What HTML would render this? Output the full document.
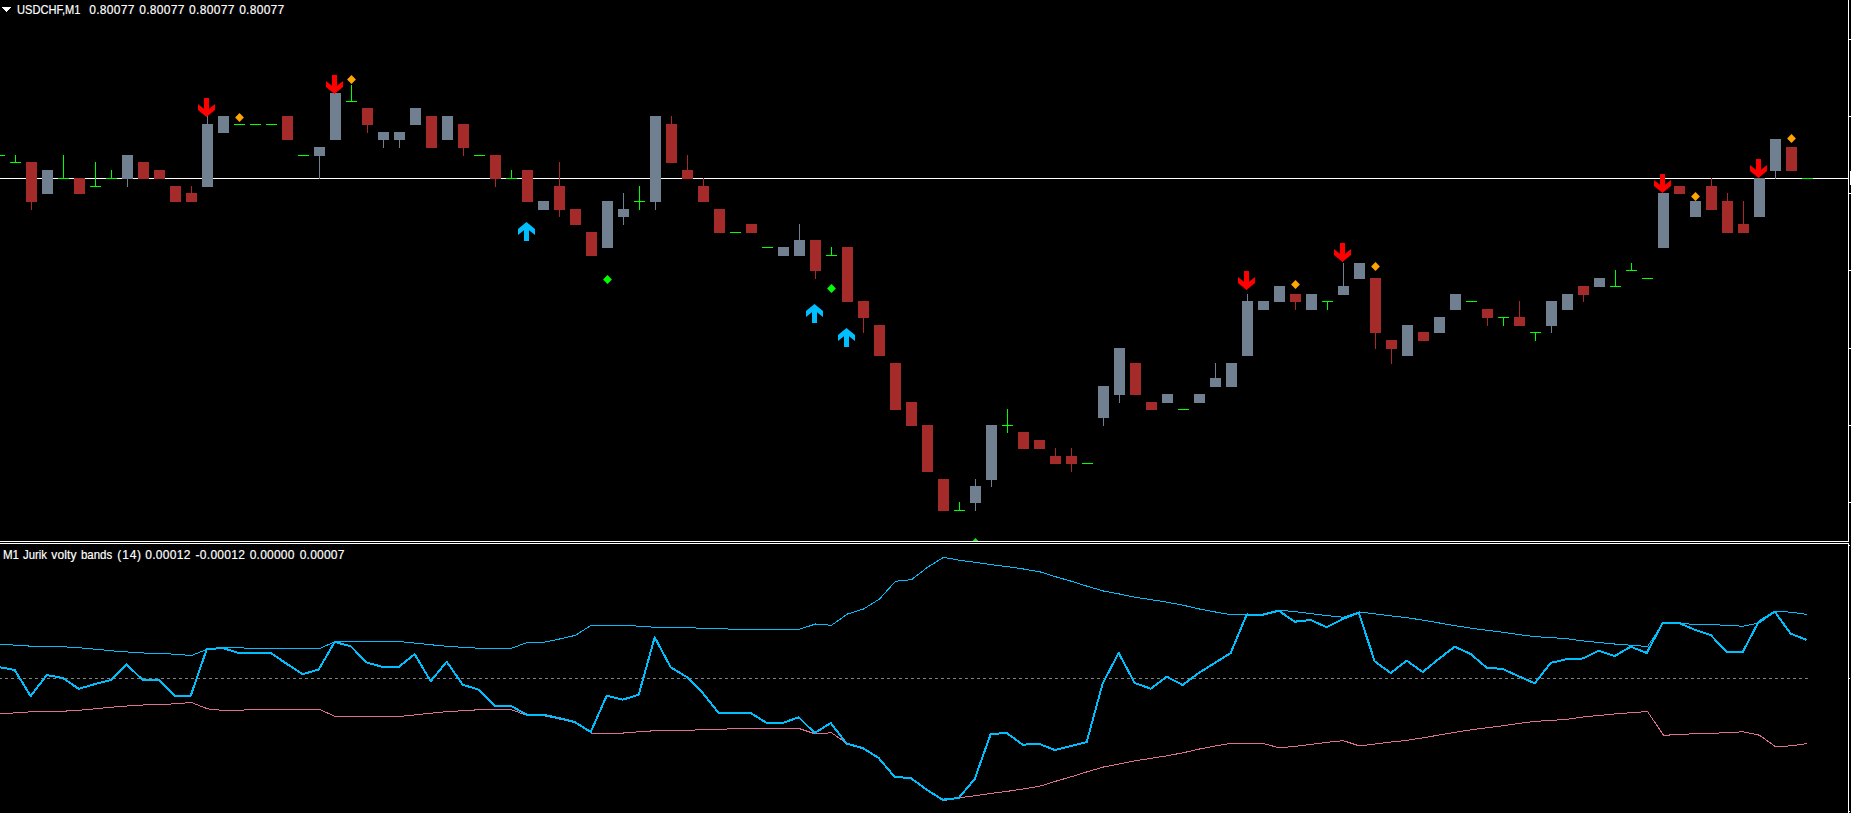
<!DOCTYPE html>
<html><head><meta charset="utf-8"><title>USDCHF,M1</title>
<style>
html,body{margin:0;padding:0;background:#000;}
body{width:1851px;height:813px;overflow:hidden;position:relative;font-family:"Liberation Sans",sans-serif;}
svg{position:absolute;left:0;top:0;display:block}
.t{position:absolute;display:inline-block;transform-origin:0 0;color:#fff;font-size:12px;line-height:14px;white-space:pre;-webkit-text-stroke:0.18px #fff;}
</style></head><body>
<svg width="1851" height="813" viewBox="0 0 1851 813">
<rect width="1851" height="813" fill="#000"/>
<g shape-rendering="crispEdges">
<rect x="0" y="178" width="1848" height="1" fill="#fff"/>
<rect x="-6" y="155" width="11" height="1" fill="#00FF00"/>
<rect x="15" y="155" width="1" height="8" fill="#00FF00"/>
<rect x="10" y="162" width="11" height="1" fill="#00FF00"/>
<rect x="31" y="162" width="1" height="48" fill="#A52A2A"/>
<rect x="26" y="162" width="11" height="40" fill="#A52A2A"/>
<rect x="47" y="170" width="1" height="24" fill="#708090"/>
<rect x="42" y="170" width="11" height="24" fill="#708090"/>
<rect x="63" y="155" width="1" height="24" fill="#00FF00"/>
<rect x="58" y="178" width="11" height="1" fill="#00FF00"/>
<rect x="79" y="178" width="1" height="16" fill="#A52A2A"/>
<rect x="74" y="178" width="11" height="16" fill="#A52A2A"/>
<rect x="95" y="162" width="1" height="25" fill="#00FF00"/>
<rect x="90" y="186" width="11" height="1" fill="#00FF00"/>
<rect x="111" y="170" width="1" height="9" fill="#00FF00"/>
<rect x="106" y="178" width="11" height="1" fill="#00FF00"/>
<rect x="127" y="155" width="1" height="32" fill="#708090"/>
<rect x="122" y="155" width="11" height="24" fill="#708090"/>
<rect x="143" y="162" width="1" height="17" fill="#A52A2A"/>
<rect x="138" y="162" width="11" height="17" fill="#A52A2A"/>
<rect x="159" y="170" width="1" height="9" fill="#A52A2A"/>
<rect x="154" y="170" width="11" height="9" fill="#A52A2A"/>
<rect x="175" y="186" width="1" height="16" fill="#A52A2A"/>
<rect x="170" y="186" width="11" height="16" fill="#A52A2A"/>
<rect x="191" y="186" width="1" height="16" fill="#A52A2A"/>
<rect x="186" y="193" width="11" height="9" fill="#A52A2A"/>
<rect x="207" y="116" width="1" height="71" fill="#708090"/>
<rect x="202" y="124" width="11" height="63" fill="#708090"/>
<rect x="223" y="116" width="1" height="17" fill="#708090"/>
<rect x="218" y="116" width="11" height="17" fill="#708090"/>
<rect x="234" y="124" width="11" height="1" fill="#00FF00"/>
<rect x="250" y="124" width="11" height="1" fill="#00FF00"/>
<rect x="266" y="124" width="11" height="1" fill="#00FF00"/>
<rect x="287" y="116" width="1" height="24" fill="#A52A2A"/>
<rect x="282" y="116" width="11" height="24" fill="#A52A2A"/>
<rect x="298" y="155" width="11" height="1" fill="#00FF00"/>
<rect x="319" y="147" width="1" height="32" fill="#708090"/>
<rect x="314" y="147" width="11" height="9" fill="#708090"/>
<rect x="335" y="93" width="1" height="47" fill="#708090"/>
<rect x="330" y="93" width="11" height="47" fill="#708090"/>
<rect x="351" y="85" width="1" height="17" fill="#00FF00"/>
<rect x="346" y="101" width="11" height="1" fill="#00FF00"/>
<rect x="367" y="108" width="1" height="25" fill="#A52A2A"/>
<rect x="362" y="108" width="11" height="17" fill="#A52A2A"/>
<rect x="383" y="132" width="1" height="16" fill="#708090"/>
<rect x="378" y="132" width="11" height="8" fill="#708090"/>
<rect x="399" y="132" width="1" height="16" fill="#708090"/>
<rect x="394" y="132" width="11" height="8" fill="#708090"/>
<rect x="415" y="108" width="1" height="17" fill="#708090"/>
<rect x="410" y="108" width="11" height="17" fill="#708090"/>
<rect x="431" y="116" width="1" height="32" fill="#A52A2A"/>
<rect x="426" y="116" width="11" height="32" fill="#A52A2A"/>
<rect x="447" y="116" width="1" height="24" fill="#708090"/>
<rect x="442" y="116" width="11" height="24" fill="#708090"/>
<rect x="463" y="124" width="1" height="32" fill="#A52A2A"/>
<rect x="458" y="124" width="11" height="24" fill="#A52A2A"/>
<rect x="474" y="155" width="11" height="1" fill="#00FF00"/>
<rect x="495" y="155" width="1" height="32" fill="#A52A2A"/>
<rect x="490" y="155" width="11" height="24" fill="#A52A2A"/>
<rect x="511" y="170" width="1" height="9" fill="#00FF00"/>
<rect x="506" y="178" width="11" height="1" fill="#00FF00"/>
<rect x="527" y="170" width="1" height="32" fill="#A52A2A"/>
<rect x="522" y="170" width="11" height="32" fill="#A52A2A"/>
<rect x="543" y="201" width="1" height="9" fill="#708090"/>
<rect x="538" y="201" width="11" height="9" fill="#708090"/>
<rect x="559" y="162" width="1" height="55" fill="#A52A2A"/>
<rect x="554" y="186" width="11" height="24" fill="#A52A2A"/>
<rect x="575" y="209" width="1" height="16" fill="#A52A2A"/>
<rect x="570" y="209" width="11" height="16" fill="#A52A2A"/>
<rect x="591" y="232" width="1" height="24" fill="#A52A2A"/>
<rect x="586" y="232" width="11" height="24" fill="#A52A2A"/>
<rect x="607" y="201" width="1" height="47" fill="#708090"/>
<rect x="602" y="201" width="11" height="47" fill="#708090"/>
<rect x="623" y="193" width="1" height="32" fill="#708090"/>
<rect x="618" y="209" width="11" height="8" fill="#708090"/>
<rect x="639" y="186" width="1" height="24" fill="#00FF00"/>
<rect x="634" y="201" width="11" height="1" fill="#00FF00"/>
<rect x="655" y="116" width="1" height="94" fill="#708090"/>
<rect x="650" y="116" width="11" height="86" fill="#708090"/>
<rect x="671" y="116" width="1" height="47" fill="#A52A2A"/>
<rect x="666" y="124" width="11" height="39" fill="#A52A2A"/>
<rect x="687" y="155" width="1" height="24" fill="#A52A2A"/>
<rect x="682" y="170" width="11" height="9" fill="#A52A2A"/>
<rect x="703" y="178" width="1" height="24" fill="#A52A2A"/>
<rect x="698" y="186" width="11" height="16" fill="#A52A2A"/>
<rect x="719" y="209" width="1" height="24" fill="#A52A2A"/>
<rect x="714" y="209" width="11" height="24" fill="#A52A2A"/>
<rect x="730" y="232" width="11" height="1" fill="#00FF00"/>
<rect x="751" y="224" width="1" height="9" fill="#A52A2A"/>
<rect x="746" y="224" width="11" height="9" fill="#A52A2A"/>
<rect x="762" y="247" width="11" height="1" fill="#00FF00"/>
<rect x="783" y="247" width="1" height="9" fill="#708090"/>
<rect x="778" y="247" width="11" height="9" fill="#708090"/>
<rect x="799" y="224" width="1" height="32" fill="#708090"/>
<rect x="794" y="240" width="11" height="16" fill="#708090"/>
<rect x="815" y="240" width="1" height="39" fill="#A52A2A"/>
<rect x="810" y="240" width="11" height="31" fill="#A52A2A"/>
<rect x="831" y="247" width="1" height="9" fill="#00FF00"/>
<rect x="826" y="255" width="11" height="1" fill="#00FF00"/>
<rect x="847" y="247" width="1" height="55" fill="#A52A2A"/>
<rect x="842" y="247" width="11" height="55" fill="#A52A2A"/>
<rect x="863" y="301" width="1" height="32" fill="#A52A2A"/>
<rect x="858" y="301" width="11" height="17" fill="#A52A2A"/>
<rect x="879" y="325" width="1" height="31" fill="#A52A2A"/>
<rect x="874" y="325" width="11" height="31" fill="#A52A2A"/>
<rect x="895" y="363" width="1" height="47" fill="#A52A2A"/>
<rect x="890" y="363" width="11" height="47" fill="#A52A2A"/>
<rect x="911" y="402" width="1" height="24" fill="#A52A2A"/>
<rect x="906" y="402" width="11" height="24" fill="#A52A2A"/>
<rect x="927" y="425" width="1" height="47" fill="#A52A2A"/>
<rect x="922" y="425" width="11" height="47" fill="#A52A2A"/>
<rect x="943" y="479" width="1" height="32" fill="#A52A2A"/>
<rect x="938" y="479" width="11" height="32" fill="#A52A2A"/>
<rect x="959" y="502" width="1" height="9" fill="#00FF00"/>
<rect x="954" y="510" width="11" height="1" fill="#00FF00"/>
<rect x="975" y="479" width="1" height="32" fill="#708090"/>
<rect x="970" y="486" width="11" height="17" fill="#708090"/>
<rect x="991" y="425" width="1" height="62" fill="#708090"/>
<rect x="986" y="425" width="11" height="55" fill="#708090"/>
<rect x="1007" y="409" width="1" height="24" fill="#00FF00"/>
<rect x="1002" y="425" width="11" height="1" fill="#00FF00"/>
<rect x="1023" y="432" width="1" height="17" fill="#A52A2A"/>
<rect x="1018" y="432" width="11" height="17" fill="#A52A2A"/>
<rect x="1039" y="440" width="1" height="9" fill="#A52A2A"/>
<rect x="1034" y="440" width="11" height="9" fill="#A52A2A"/>
<rect x="1055" y="448" width="1" height="16" fill="#A52A2A"/>
<rect x="1050" y="456" width="11" height="8" fill="#A52A2A"/>
<rect x="1071" y="448" width="1" height="24" fill="#A52A2A"/>
<rect x="1066" y="456" width="11" height="8" fill="#A52A2A"/>
<rect x="1082" y="463" width="11" height="1" fill="#00FF00"/>
<rect x="1103" y="386" width="1" height="40" fill="#708090"/>
<rect x="1098" y="386" width="11" height="32" fill="#708090"/>
<rect x="1119" y="348" width="1" height="55" fill="#708090"/>
<rect x="1114" y="348" width="11" height="47" fill="#708090"/>
<rect x="1135" y="363" width="1" height="32" fill="#A52A2A"/>
<rect x="1130" y="363" width="11" height="32" fill="#A52A2A"/>
<rect x="1151" y="402" width="1" height="8" fill="#A52A2A"/>
<rect x="1146" y="402" width="11" height="8" fill="#A52A2A"/>
<rect x="1167" y="394" width="1" height="9" fill="#708090"/>
<rect x="1162" y="394" width="11" height="9" fill="#708090"/>
<rect x="1178" y="409" width="11" height="1" fill="#00FF00"/>
<rect x="1199" y="394" width="1" height="9" fill="#708090"/>
<rect x="1194" y="394" width="11" height="9" fill="#708090"/>
<rect x="1215" y="363" width="1" height="24" fill="#708090"/>
<rect x="1210" y="378" width="11" height="9" fill="#708090"/>
<rect x="1231" y="363" width="1" height="24" fill="#708090"/>
<rect x="1226" y="363" width="11" height="24" fill="#708090"/>
<rect x="1247" y="294" width="1" height="62" fill="#708090"/>
<rect x="1242" y="301" width="11" height="55" fill="#708090"/>
<rect x="1263" y="301" width="1" height="9" fill="#708090"/>
<rect x="1258" y="301" width="11" height="9" fill="#708090"/>
<rect x="1279" y="286" width="1" height="16" fill="#708090"/>
<rect x="1274" y="286" width="11" height="16" fill="#708090"/>
<rect x="1295" y="294" width="1" height="16" fill="#A52A2A"/>
<rect x="1290" y="294" width="11" height="8" fill="#A52A2A"/>
<rect x="1311" y="294" width="1" height="16" fill="#708090"/>
<rect x="1306" y="294" width="11" height="16" fill="#708090"/>
<rect x="1327" y="301" width="1" height="9" fill="#00FF00"/>
<rect x="1322" y="301" width="11" height="1" fill="#00FF00"/>
<rect x="1343" y="263" width="1" height="32" fill="#708090"/>
<rect x="1338" y="286" width="11" height="9" fill="#708090"/>
<rect x="1359" y="263" width="1" height="16" fill="#708090"/>
<rect x="1354" y="263" width="11" height="16" fill="#708090"/>
<rect x="1375" y="278" width="1" height="71" fill="#A52A2A"/>
<rect x="1370" y="278" width="11" height="55" fill="#A52A2A"/>
<rect x="1391" y="340" width="1" height="24" fill="#A52A2A"/>
<rect x="1386" y="340" width="11" height="9" fill="#A52A2A"/>
<rect x="1407" y="325" width="1" height="31" fill="#708090"/>
<rect x="1402" y="325" width="11" height="31" fill="#708090"/>
<rect x="1423" y="332" width="1" height="9" fill="#A52A2A"/>
<rect x="1418" y="332" width="11" height="9" fill="#A52A2A"/>
<rect x="1439" y="317" width="1" height="16" fill="#708090"/>
<rect x="1434" y="317" width="11" height="16" fill="#708090"/>
<rect x="1455" y="294" width="1" height="16" fill="#708090"/>
<rect x="1450" y="294" width="11" height="16" fill="#708090"/>
<rect x="1466" y="301" width="11" height="1" fill="#00FF00"/>
<rect x="1487" y="309" width="1" height="17" fill="#A52A2A"/>
<rect x="1482" y="309" width="11" height="9" fill="#A52A2A"/>
<rect x="1503" y="317" width="1" height="9" fill="#00FF00"/>
<rect x="1498" y="317" width="11" height="1" fill="#00FF00"/>
<rect x="1519" y="301" width="1" height="25" fill="#A52A2A"/>
<rect x="1514" y="317" width="11" height="9" fill="#A52A2A"/>
<rect x="1535" y="332" width="1" height="9" fill="#00FF00"/>
<rect x="1530" y="332" width="11" height="1" fill="#00FF00"/>
<rect x="1551" y="301" width="1" height="32" fill="#708090"/>
<rect x="1546" y="301" width="11" height="25" fill="#708090"/>
<rect x="1567" y="294" width="1" height="16" fill="#708090"/>
<rect x="1562" y="294" width="11" height="16" fill="#708090"/>
<rect x="1583" y="286" width="1" height="16" fill="#A52A2A"/>
<rect x="1578" y="286" width="11" height="9" fill="#A52A2A"/>
<rect x="1599" y="278" width="1" height="9" fill="#708090"/>
<rect x="1594" y="278" width="11" height="9" fill="#708090"/>
<rect x="1615" y="270" width="1" height="17" fill="#00FF00"/>
<rect x="1610" y="286" width="11" height="1" fill="#00FF00"/>
<rect x="1631" y="263" width="1" height="8" fill="#00FF00"/>
<rect x="1626" y="270" width="11" height="1" fill="#00FF00"/>
<rect x="1642" y="278" width="11" height="1" fill="#00FF00"/>
<rect x="1663" y="193" width="1" height="55" fill="#708090"/>
<rect x="1658" y="193" width="11" height="55" fill="#708090"/>
<rect x="1679" y="186" width="1" height="8" fill="#A52A2A"/>
<rect x="1674" y="186" width="11" height="8" fill="#A52A2A"/>
<rect x="1695" y="201" width="1" height="16" fill="#708090"/>
<rect x="1690" y="201" width="11" height="16" fill="#708090"/>
<rect x="1711" y="178" width="1" height="32" fill="#A52A2A"/>
<rect x="1706" y="186" width="11" height="24" fill="#A52A2A"/>
<rect x="1727" y="193" width="1" height="40" fill="#A52A2A"/>
<rect x="1722" y="201" width="11" height="32" fill="#A52A2A"/>
<rect x="1743" y="201" width="1" height="32" fill="#A52A2A"/>
<rect x="1738" y="224" width="11" height="9" fill="#A52A2A"/>
<rect x="1759" y="178" width="1" height="39" fill="#708090"/>
<rect x="1754" y="178" width="11" height="39" fill="#708090"/>
<rect x="1775" y="139" width="1" height="40" fill="#708090"/>
<rect x="1770" y="139" width="11" height="32" fill="#708090"/>
<rect x="1791" y="147" width="1" height="24" fill="#A52A2A"/>
<rect x="1786" y="147" width="11" height="24" fill="#A52A2A"/>
<rect x="1802" y="178" width="11" height="1" fill="#00FF00"/>
<rect x="1848" y="0" width="1" height="541" fill="#fff"/>
<rect x="0" y="541" width="1849" height="1" fill="#fff"/>
<rect x="0" y="543" width="1849" height="1" fill="#fff"/>
<rect x="1848" y="543" width="1" height="270" fill="#fff"/>
<rect x="1849" y="39" width="2" height="1" fill="#fff"/><rect x="1849" y="116" width="2" height="1" fill="#fff"/><rect x="1849" y="193" width="2" height="1" fill="#fff"/><rect x="1849" y="270" width="2" height="1" fill="#fff"/><rect x="1849" y="348" width="2" height="1" fill="#fff"/><rect x="1849" y="425" width="2" height="1" fill="#fff"/><rect x="1849" y="502" width="2" height="1" fill="#fff"/>
<rect x="1849" y="545" width="1" height="1" fill="#fff"/>
<rect x="1849" y="678" width="1" height="1" fill="#fff"/>
<rect x="1849" y="811" width="1" height="1" fill="#fff"/>
<rect x="1850" y="171" width="1" height="14" fill="#fff"/>
<polygon points="2,7 11,7 6.5,12" fill="#fff"/>
<line x1="0" y1="678.5" x2="1808" y2="678.5" stroke="#808080" stroke-width="1" stroke-dasharray="3 3" stroke-dashoffset="1"/>
<polyline fill="none" stroke="#00BFFF" stroke-width="1" points="-0.5,644.0 15.5,645.2 31.5,646.2 47.5,646.5 63.5,646.8 79.5,647.8 95.5,649.2 111.5,650.8 127.5,652.0 143.5,653.0 159.5,653.5 175.5,654.2 191.5,655.5 207.5,649.2 223.5,647.5 239.5,647.8 255.5,648.5 271.5,648.5 287.5,648.5 303.5,648.5 319.5,648.5 335.5,641.5 351.5,641.5 367.5,641.5 383.5,641.5 399.5,641.5 415.5,643.2 431.5,644.8 447.5,646.4 463.5,647.3 479.5,648.3 495.5,648.3 511.5,648.3 527.5,642.3 543.5,642.3 559.5,639.0 575.5,635.3 591.5,625.0 607.5,625.0 623.5,625.0 639.5,626.3 655.5,627.3 671.5,627.3 687.5,627.7 703.5,628.3 719.5,628.7 735.5,629.3 751.5,629.3 767.5,629.3 783.5,629.3 799.5,629.3 815.5,624.0 831.5,625.3 847.5,614.0 863.5,609.0 879.5,599.0 895.5,581.3 911.5,579.7 927.5,567.3 943.5,557.3 959.5,560.3 975.5,562.3 991.5,564.7 1007.5,566.7 1023.5,569.0 1039.5,571.7 1055.5,576.7 1071.5,581.3 1087.5,586.3 1103.5,591.0 1119.5,594.0 1135.5,597.3 1151.5,599.7 1167.5,602.3 1183.5,605.3 1199.5,609.0 1215.5,612.0 1231.5,614.7 1247.5,614.0 1263.5,614.3 1279.5,610.2 1295.5,611.7 1311.5,613.7 1327.5,615.7 1343.5,617.3 1359.5,612.0 1375.5,614.0 1391.5,616.0 1407.5,617.7 1423.5,620.3 1439.5,623.0 1455.5,625.7 1471.5,628.3 1487.5,630.3 1503.5,632.3 1519.5,634.7 1535.5,636.7 1551.5,637.6 1567.5,638.8 1583.5,641.0 1599.5,642.6 1615.5,644.1 1631.5,645.3 1647.5,646.5 1663.5,622.8 1679.5,623.3 1695.5,624.5 1711.5,624.5 1727.5,625.5 1743.5,626.2 1759.5,622.8 1775.5,611.3 1791.5,612.2 1807.5,614.5"/>
<polyline fill="none" stroke="#DB7093" stroke-width="1" points="-0.5,714.0 15.5,712.8 31.5,711.8 47.5,711.5 63.5,711.2 79.5,710.2 95.5,708.8 111.5,707.2 127.5,706.0 143.5,705.0 159.5,704.5 175.5,703.8 191.5,702.5 207.5,708.8 223.5,710.5 239.5,710.2 255.5,709.5 271.5,709.5 287.5,709.5 303.5,709.5 319.5,709.5 335.5,716.5 351.5,716.5 367.5,716.5 383.5,716.5 399.5,716.5 415.5,714.8 431.5,713.2 447.5,711.6 463.5,710.7 479.5,709.7 495.5,709.7 511.5,709.7 527.5,715.7 543.5,715.7 559.5,719.0 575.5,722.7 591.5,733.0 607.5,733.0 623.5,733.0 639.5,731.7 655.5,730.7 671.5,730.7 687.5,730.3 703.5,729.7 719.5,729.3 735.5,728.7 751.5,728.7 767.5,728.7 783.5,728.7 799.5,728.7 815.5,734.0 831.5,732.7 847.5,744.0 863.5,749.0 879.5,759.0 895.5,776.7 911.5,778.3 927.5,790.7 943.5,800.7 959.5,797.7 975.5,795.7 991.5,793.3 1007.5,791.3 1023.5,789.0 1039.5,786.3 1055.5,781.3 1071.5,776.7 1087.5,771.7 1103.5,767.0 1119.5,764.0 1135.5,760.7 1151.5,758.3 1167.5,755.7 1183.5,752.7 1199.5,749.0 1215.5,746.0 1231.5,743.3 1247.5,744.0 1263.5,743.7 1279.5,747.8 1295.5,746.3 1311.5,744.3 1327.5,742.3 1343.5,740.7 1359.5,746.0 1375.5,744.0 1391.5,742.0 1407.5,740.3 1423.5,737.7 1439.5,735.0 1455.5,732.3 1471.5,729.7 1487.5,727.7 1503.5,725.7 1519.5,723.3 1535.5,721.3 1551.5,720.4 1567.5,719.2 1583.5,717.0 1599.5,715.4 1615.5,713.9 1631.5,712.7 1647.5,711.5 1663.5,735.2 1679.5,734.7 1695.5,733.5 1711.5,733.5 1727.5,732.5 1743.5,731.8 1759.5,735.2 1775.5,746.7 1791.5,745.8 1807.5,743.5"/>
<polyline fill="none" stroke="#00BFFF" stroke-width="2" stroke-linejoin="round" points="-1.3,667.0 14.7,670.0 30.7,696.2 46.7,675.0 62.7,678.0 78.7,688.8 94.7,684.2 110.7,680.0 126.7,664.5 142.7,680.0 158.7,680.0 174.7,695.8 190.7,695.8 206.7,649.2 222.7,648.0 238.7,653.0 254.7,653.0 270.7,653.0 286.7,663.8 302.7,674.2 318.7,669.5 334.7,642.0 350.7,646.2 366.7,662.5 382.7,667.0 398.7,667.0 414.7,654.2 430.7,681.2 446.7,661.7 462.7,684.7 478.7,689.7 494.7,705.7 510.7,705.7 526.7,714.7 542.7,714.7 558.7,718.0 574.7,722.0 590.7,732.0 606.7,695.7 622.7,699.7 638.7,694.7 654.7,637.3 670.7,667.3 686.7,677.0 702.7,693.0 718.7,713.0 734.7,713.0 750.7,713.0 766.7,723.0 782.7,723.0 798.7,717.3 814.7,733.0 830.7,723.0 846.7,743.7 862.7,748.0 878.7,758.0 894.7,777.0 910.7,778.0 926.7,789.7 942.7,799.7 958.7,798.0 974.7,779.0 990.7,734.0 1006.7,733.0 1022.7,744.7 1038.7,743.7 1054.7,750.0 1070.7,746.0 1086.7,742.0 1102.7,683.3 1118.7,653.0 1134.7,683.0 1150.7,688.7 1166.7,676.7 1182.7,685.0 1198.7,673.0 1214.7,663.0 1230.7,653.0 1246.7,614.7 1262.7,614.7 1278.7,610.7 1294.7,621.7 1310.7,620.0 1326.7,627.3 1342.7,619.0 1358.7,612.7 1374.7,661.3 1390.7,673.0 1406.7,660.7 1422.7,672.0 1438.7,659.0 1454.7,646.7 1470.7,654.0 1486.7,667.7 1502.7,669.0 1518.7,676.3 1534.7,683.3 1550.7,662.9 1566.7,659.2 1582.7,658.5 1598.7,650.8 1614.7,656.0 1630.7,646.7 1646.7,653.0 1662.7,622.8 1678.7,622.8 1694.7,629.7 1710.7,635.0 1726.7,652.0 1742.7,652.0 1758.7,621.7 1774.7,611.7 1790.7,633.7 1806.7,640.0"/>
</g>
<clipPath id="cp"><rect x="0" y="0" width="1848" height="541"/></clipPath>
<g clip-path="url(#cp)">
<polygon fill="#FF0000" points="204.0,98.0 209.0,98.0 209.0,108.7 215.0,104.0 215.0,110.0 206.5,117.0 198.0,110.0 198.0,104.0 204.0,108.7"/>
<polygon fill="#FF0000" points="332.0,75.0 337.0,75.0 337.0,85.7 343.0,81.0 343.0,87.0 334.5,94.0 326.0,87.0 326.0,81.0 332.0,85.7"/>
<polygon fill="#FF0000" points="1244.0,271.0 1249.0,271.0 1249.0,281.7 1255.0,277.0 1255.0,283.0 1246.5,290.0 1238.0,283.0 1238.0,277.0 1244.0,281.7"/>
<polygon fill="#FF0000" points="1340.0,243.0 1345.0,243.0 1345.0,253.7 1351.0,249.0 1351.0,255.0 1342.5,262.0 1334.0,255.0 1334.0,249.0 1340.0,253.7"/>
<polygon fill="#FF0000" points="1660.0,174.0 1665.0,174.0 1665.0,184.7 1671.0,180.0 1671.0,186.0 1662.5,193.0 1654.0,186.0 1654.0,180.0 1660.0,184.7"/>
<polygon fill="#FF0000" points="1756.0,159.0 1761.0,159.0 1761.0,169.7 1767.0,165.0 1767.0,171.0 1758.5,178.0 1750.0,171.0 1750.0,165.0 1756.0,169.7"/>
<polygon fill="#00BFFF" points="524.0,241.0 529.0,241.0 529.0,230.3 535.0,235.0 535.0,229.0 526.5,222.0 518.0,229.0 518.0,235.0 524.0,230.3"/>
<polygon fill="#00BFFF" points="812.0,323.0 817.0,323.0 817.0,312.3 823.0,317.0 823.0,311.0 814.5,304.0 806.0,311.0 806.0,317.0 812.0,312.3"/>
<polygon fill="#00BFFF" points="844.0,347.0 849.0,347.0 849.0,336.3 855.0,341.0 855.0,335.0 846.5,328.0 838.0,335.0 838.0,341.0 844.0,336.3"/>
<polygon fill="#FFA500" points="239.5,113.1 243.9,117.5 239.5,121.9 235.1,117.5"/>
<polygon fill="#FFA500" points="351.5,75.1 355.9,79.5 351.5,83.9 347.1,79.5"/>
<polygon fill="#FFA500" points="1295.5,280.1 1299.9,284.5 1295.5,288.9 1291.1,284.5"/>
<polygon fill="#FFA500" points="1375.5,262.1 1379.9,266.5 1375.5,270.9 1371.1,266.5"/>
<polygon fill="#FFA500" points="1695.5,192.1 1699.9,196.5 1695.5,200.9 1691.1,196.5"/>
<polygon fill="#FFA500" points="1791.5,134.1 1795.9,138.5 1791.5,142.9 1787.1,138.5"/>
<polygon fill="#00FF00" points="607.5,275.1 611.9,279.5 607.5,283.9 603.1,279.5"/>
<polygon fill="#00FF00" points="831.5,284.1 835.9,288.5 831.5,292.9 827.1,288.5"/>
<polygon fill="#00FF00" points="975.5,538.1 979.9,542.5 975.5,546.9 971.1,542.5"/>
</g>
<rect x="0" y="541" width="1849" height="1" fill="#fff"/>
<rect x="0" y="542" width="1851" height="1" fill="#000"/>
<rect x="0" y="543" width="1849" height="1" fill="#fff"/>
</svg>
<span class="t" id="a0" style="left:16.61px;top:3px;letter-spacing:0.000px;transform:scaleX(0.9246)">USDCHF,M1</span>
<span class="t" id="a1" style="left:89.24px;top:3px;letter-spacing:0.311px;transform:scaleX(1.0000)">0.80077</span>
<span class="t" id="a2" style="left:139.24px;top:3px;letter-spacing:0.311px;transform:scaleX(1.0000)">0.80077</span>
<span class="t" id="a3" style="left:189.06px;top:3px;letter-spacing:0.315px;transform:scaleX(1.0000)">0.80077</span>
<span class="t" id="a4" style="left:239.15px;top:3px;letter-spacing:0.290px;transform:scaleX(1.0000)">0.80077</span>
<span class="t" id="b0" style="left:2.74px;top:548px;letter-spacing:0.000px;transform:scaleX(0.9611)">M1</span>
<span class="t" id="b1" style="left:22.84px;top:548px;letter-spacing:0.000px;transform:scaleX(0.9439)">Jurik</span>
<span class="t" id="b2" style="left:51.23px;top:548px;letter-spacing:0.157px;transform:scaleX(1.0000)">volty</span>
<span class="t" id="b3" style="left:81.13px;top:548px;letter-spacing:0.000px;transform:scaleX(0.9544)">bands</span>
<span class="t" id="b4" style="left:117.35px;top:548px;letter-spacing:0.807px;transform:scaleX(1.0000)">(14)</span>
<span class="t" id="b5" style="left:145.24px;top:548px;letter-spacing:0.311px;transform:scaleX(1.0000)">0.00012</span>
<span class="t" id="b6" style="left:195.55px;top:548px;letter-spacing:0.278px;transform:scaleX(1.0000)">-0.00012</span>
<span class="t" id="b7" style="left:249.73px;top:548px;letter-spacing:0.211px;transform:scaleX(1.0000)">0.00000</span>
<span class="t" id="b8" style="left:299.73px;top:548px;letter-spacing:0.211px;transform:scaleX(1.0000)">0.00007</span>
</body></html>
